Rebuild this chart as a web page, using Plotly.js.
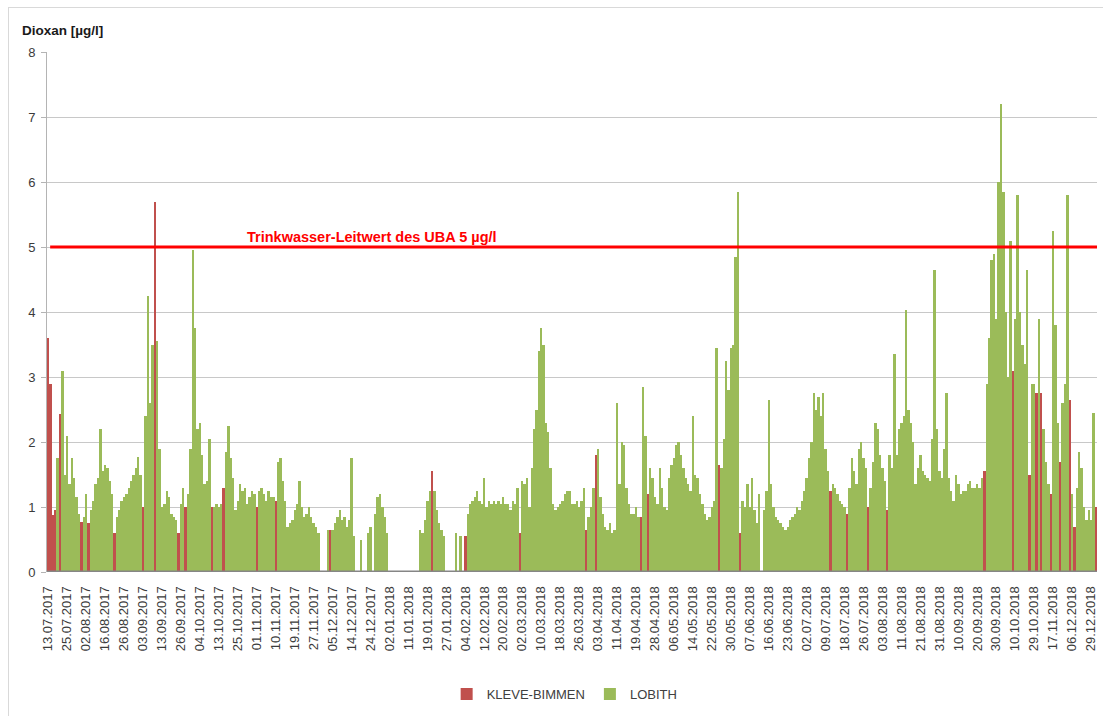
<!DOCTYPE html>
<html><head><meta charset="utf-8">
<script src="https://cdn.plot.ly/plotly-3.0.1.min.js"></script>
<style>
html,body{margin:0;padding:0;background:#fff;overflow:hidden;}
#frame{position:absolute;left:8px;top:7px;width:1200px;height:800px;border-left:1px solid #d9d9d9;border-top:1px solid #d9d9d9;}
#chart{position:absolute;left:0;top:0;width:1103px;height:716px;}
</style></head><body>
<div id="frame"></div>
<div id="chart"></div>
<script>
const _ = null;

// x-axis labels (one every TICK_STEP measurements)
const tickLabels = ["13.07.2017","25.07.2017","02.08.2017","16.08.2017","26.08.2017","03.09.2017","13.09.2017","26.09.2017","04.10.2017","13.10.2017","25.10.2017","01.11.2017","10.11.2017","19.11.2017","27.11.2017","05.12.2017","14.12.2017","24.12.2017","02.01.2018","11.01.2018","19.01.2018","27.01.2018","04.02.2018","12.02.2018","20.02.2018","02.03.2018","10.03.2018","18.03.2018","26.03.2018","03.04.2018","11.04.2018","19.04.2018","28.04.2018","06.05.2018","14.05.2018","22.05.2018","30.05.2018","07.06.2018","16.06.2018","23.06.2018","02.07.2018","09.07.2018","18.07.2018","26.07.2018","03.08.2018","11.08.2018","21.08.2018","31.08.2018","10.09.2018","20.09.2018","30.09.2018","10.10.2018","29.10.2018","17.11.2018","06.12.2018","29.12.2018"];
const TICK_STEP = 8;

// Dioxan LOBITH [µg/l]
const lobith = [
_,_,_,_,1.75,_,3.1,1.5,
2.1,1.35,1.75,1.45,1.15,0.9,_,0.85,
1.2,_,0.95,1.1,1.35,1.45,2.2,1.55,
1.65,1.6,1.4,1.2,_,0.85,0.95,1.1,
1.15,1.2,1.3,1.4,1.5,1.6,1.77,1.5,
_,2.4,4.25,2.6,3.5,_,3.55,1.9,
1.0,1.05,1.25,1.15,0.9,0.85,0.8,_,
1.05,1.3,_,1.2,1.9,4.95,3.75,2.2,
2.3,1.8,1.35,1.4,2.05,_,1.0,1.05,
1.0,1.05,_,1.85,2.25,1.75,1.45,0.95,
1.1,1.35,1.25,1.3,1.05,1.15,1.25,1.2,
_,1.25,1.3,1.2,1.1,1.25,1.15,1.15,
_,1.7,1.75,1.4,1.1,0.7,0.75,0.8,
0.95,1.05,1.4,1.0,0.85,0.9,1.0,0.85,
0.75,0.7,0.6,_,_,_,0.65,_,
0.65,0.75,0.85,0.95,0.8,0.85,0.7,0.8,
1.75,0.55,_,_,0.5,_,_,0.6,
0.7,_,0.9,1.15,1.2,1.0,0.85,0.6,
_,_,_,_,_,_,_,_,
_,_,_,_,_,0.65,0.6,0.8,
1.1,1.25,_,1.25,0.95,0.75,0.65,0.55,
_,_,_,_,0.6,_,0.55,_,
_,0.9,1.05,1.1,1.15,1.25,1.1,1.05,
1.45,1.0,1.1,1.05,1.1,1.05,1.1,1.05,
1.15,1.05,1.05,0.95,1.1,1.05,1.3,_,
1.4,1.35,1.45,1.0,1.6,2.2,2.5,3.4,
3.75,3.5,2.3,2.15,1.6,1.05,0.95,1.0,
1.05,1.1,1.2,1.25,1.25,1.05,1.05,1.1,
1.0,1.1,1.3,_,0.85,1.0,1.3,_,
1.9,1.15,0.9,0.7,0.65,0.75,0.6,0.65,
2.6,1.35,2.0,1.95,1.3,1.05,0.9,0.9,
1.0,0.85,_,2.85,2.1,_,1.6,1.45,
1.15,1.05,1.6,1.3,1.0,0.95,1.45,1.65,
1.75,1.95,2.0,1.8,1.6,1.45,1.35,1.25,
2.4,1.5,1.45,1.2,1.05,0.9,0.8,0.85,
1.0,1.1,3.45,_,1.6,2.05,3.25,2.8,
3.45,3.5,4.85,5.85,_,1.1,1.0,1.35,
1.0,1.45,0.95,0.75,1.2,_,0.95,1.25,
2.65,1.35,1.0,0.85,0.8,0.75,0.7,0.65,
0.7,0.8,0.85,0.9,1.0,0.95,1.1,1.25,
1.45,1.75,2.0,2.75,2.5,2.7,2.4,2.75,
1.9,1.55,_,1.35,1.3,1.2,1.1,1.05,
1.0,_,1.3,1.75,1.55,1.35,1.9,2.0,
1.75,1.6,_,1.3,1.7,2.3,2.2,1.8,
1.6,1.4,_,1.8,1.6,3.35,1.8,2.2,
2.3,2.4,4.03,2.5,2.3,2.0,1.35,1.6,
1.8,1.55,1.5,1.45,1.4,2.05,4.65,2.2,
1.55,1.45,1.9,2.75,1.45,1.25,1.1,1.5,
1.35,1.2,1.25,1.25,1.35,1.4,1.3,1.3,
1.35,1.3,1.45,_,2.9,3.6,4.8,4.9,
3.9,6.0,7.2,5.85,4.0,3.0,5.1,_,
3.9,5.8,4.0,3.5,3.2,4.65,_,2.9,
2.9,_,3.9,_,2.2,1.7,1.35,_,
5.25,3.8,2.3,_,2.6,2.9,5.8,_,
1.2,_,1.3,1.85,1.6,1.0,0.8,0.95,
0.8,2.45,_
];

// Dioxan KLEVE-BIMMEN [µg/l]
const kleveBimmen = [
3.6,2.9,0.88,0.95,_,2.43,_,_,
_,_,_,_,_,_,0.77,_,
_,0.75,_,_,_,_,_,_,
_,_,_,_,0.6,_,_,_,
_,_,_,_,_,_,_,_,
1.0,_,_,_,_,5.7,_,_,
_,_,_,_,_,_,_,0.6,
_,_,1.0,_,_,_,_,_,
_,_,_,_,_,1.0,_,_,
_,_,1.3,_,_,_,_,_,
_,_,_,_,_,_,_,_,
1.0,_,_,_,_,_,_,_,
1.1,_,_,_,_,_,_,_,
_,_,_,_,_,_,_,_,
_,_,_,_,_,_,_,0.65,
_,_,_,_,_,_,_,_,
_,_,_,_,_,_,_,_,
_,_,_,_,_,_,_,_,
_,_,_,_,_,_,_,_,
_,_,_,_,_,_,_,_,
_,_,1.55,_,_,_,_,_,
_,_,_,_,_,_,_,_,
0.55,_,_,_,_,_,_,_,
_,_,_,_,_,_,_,_,
_,_,_,_,_,_,_,0.6,
_,_,_,_,_,_,_,_,
_,_,_,_,_,_,_,_,
_,_,_,_,_,_,_,_,
_,_,_,0.65,_,_,_,1.8,
_,_,_,_,_,_,_,_,
_,_,_,_,_,_,_,_,
_,_,0.85,_,_,1.2,_,_,
_,_,_,_,_,_,_,_,
_,_,_,_,_,_,_,_,
_,_,_,_,_,_,_,_,
_,_,_,1.65,_,_,_,_,
_,_,_,_,0.6,_,_,_,
_,_,_,_,_,_,_,_,
_,_,_,_,_,_,_,_,
_,_,_,_,_,_,_,_,
_,_,_,_,_,_,_,_,
_,_,1.25,_,_,_,_,_,
_,0.9,_,_,_,_,_,_,
_,_,1.0,_,_,_,_,_,
_,_,0.95,_,_,_,_,_,
_,_,_,_,_,_,_,_,
_,_,_,_,_,_,_,_,
_,_,_,_,_,_,_,_,
_,_,_,_,_,_,_,_,
_,_,_,1.55,_,_,_,_,
_,_,_,_,_,_,_,3.1,
_,_,_,_,_,_,1.5,_,
_,2.75,_,2.75,_,_,_,1.2,
_,_,_,1.7,_,_,_,2.65,
_,0.7,_,_,_,_,_,_,
_,_,1.0
];

const leitwert = 5;
const leitwertText = "Trinkwasser-Leitwert des UBA 5 µg/l";
const yTitle = "Dioxan [µg/l]";

const idx = lobith.map((v, i) => i);
const tickVals = tickLabels.map((t, j) => j * TICK_STEP);

const FONT = "Liberation Sans, Arial, sans-serif";

const traces = [
  {type: "bar", name: "KLEVE-BIMMEN", x: idx, y: kleveBimmen,
   marker: {color: "#C0504D", opacity: 1, line: {width: 0}}, hoverinfo: "y+name"},
  {type: "bar", name: "LOBITH", x: idx, y: lobith,
   marker: {color: "#9BBB59", opacity: 1, line: {width: 0}}, hoverinfo: "y+name"}
];

const layout = {
  width: 1103, height: 716,
  margin: {l: 47, r: 6, t: 52, b: 144},
  paper_bgcolor: "rgba(0,0,0,0)", plot_bgcolor: "#ffffff",
  barmode: "overlay", bargap: 0,
  font: {family: FONT, color: "#3b3b3b", size: 13},
  showlegend: true,
  legend: {orientation: "h", x: 0.493, xanchor: "center", y: -0.2346, yanchor: "middle",
           font: {family: FONT, size: 13, color: "#404040"}, bgcolor: "rgba(0,0,0,0)"},
  xaxis: {range: [-0.5, lobith.length - 0.5], tickmode: "array", tickvals: tickVals, ticktext: tickLabels,
          tickangle: -90, tickfont: {family: FONT, size: 13, color: "#3b3b3b"},
          showgrid: false, zeroline: false, showline: false,
          ticks: "outside", ticklen: 8, tickcolor: "rgba(0,0,0,0)", automargin: false},
  yaxis: {range: [0, 8], dtick: 1, tick0: 0, showgrid: true, gridcolor: "#c8c8c8", gridwidth: 1,
          zeroline: false, showline: true, linecolor: "#b4b4b4", linewidth: 1,
          ticks: "outside", ticklen: 5, tickcolor: "#b4b4b4", ticklabelstandoff: 3,
          tickfont: {family: FONT, size: 13, color: "#3b3b3b"}, automargin: false},
  shapes: [
    {type: "line", xref: "paper", x0: 0.003, x1: 1, yref: "y", y0: leitwert, y1: leitwert,
     line: {color: "#ff0000", width: 3}, layer: "above"},
    {type: "rect", xref: "paper", x0: 0, x1: 1, yref: "y", ysizemode: "pixel", yanchor: 0, y0: -3, y1: 1.5,
     fillcolor: "#868686", line: {width: 0}, layer: "above"}
  ],
  annotations: [
    {text: "<b>" + leitwertText + "</b>", xref: "paper", x: 0.1886, xanchor: "left",
     yref: "y", y: leitwert, yanchor: "bottom", showarrow: false,
     font: {family: FONT, size: 14.5, color: "#ff0000"}},
    {text: "<b>" + yTitle + "</b>", xref: "paper", x: -0.0257, xanchor: "left",
     yref: "paper", y: 1.0404, yanchor: "middle", showarrow: false,
     font: {family: FONT, size: 13.5, color: "#1a1a1a"}}
  ]
};

Plotly.newPlot("chart", traces, layout, {displayModeBar: false, responsive: false});
</script>
</body></html>
